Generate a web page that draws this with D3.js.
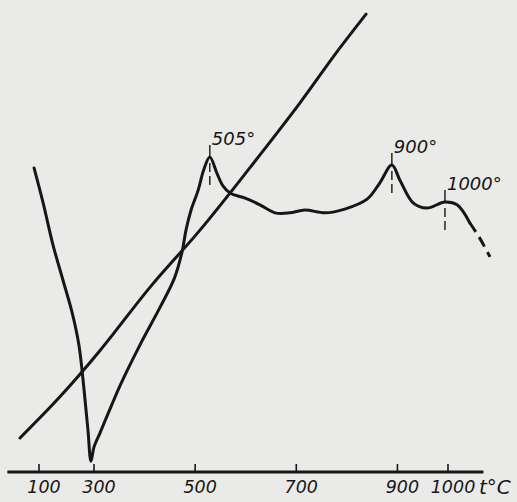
<!DOCTYPE html>
<html>
<head>
<meta charset="utf-8">
<script src="https://cdn.jsdelivr.net/npm/d3@7"></script>
<style>
  body { margin: 0; background: #eaeae8; }
  svg { display: block; }
  text { font-family: "DejaVu Sans", sans-serif; font-style: italic; fill: #161616; }
</style>
</head>
<body>
<script>
// Readings: temperature in °C, curve height in relative units (0..100)
var tickTemps = [100, 300, 500, 700, 900, 1000];
var axisTemps = [-15, 1070];

var curveTemps  = [82, 115, 151, 187, 220, 245, 264, 278, 289, 300, 312, 352, 391, 430, 459, 474, 482, 492, 506, 517, 529, 543, 555, 569, 599, 628, 658, 687, 717, 757, 796, 840, 865, 889, 905, 931, 958, 994, 1018, 1043];
var curveValues = [64.5, 57.1, 48.2, 40.8, 34.0, 27.1, 17.5, 9.1, 2.5, 5.5, 8.5, 18.6, 27.1, 34.9, 41.2, 46.7, 51.4, 55.6, 59.8, 64.1, 66.8, 63.4, 60.7, 59.2, 58.1, 56.7, 55.0, 55.0, 55.6, 55.0, 55.8, 57.9, 61.3, 65.1, 61.9, 57.1, 56.0, 57.3, 56.7, 52.9];

// dashed continuation of the curve
var tailTemps  = [1043, 1063, 1083];
var tailValues = [52.9, 49.6, 45.7];

var lineTemps  = [31, 176, 312, 411, 510, 608, 707, 776, 838];
var lineValues = [7.4, 16.1, 25.9, 39.3, 51.4, 64.5, 78.2, 88.4, 97.0];

var peakTemps  = [529, 889, 994];
var peakValues = [66.8, 65.1, 57.3];
var peakLabels = ['505°', '900°', '1000°'];

var width = 517, height = 502;
var ink = '#161616';

var svg = d3.select('body').append('svg')
  .attr('width', width)
  .attr('height', height);

// the printed temperature scale is not uniform below 300°
var x = d3.scaleLinear().domain([100, 300, 1000]).range([39, 94, 448]);
var y = d3.scaleLinear().domain([0, 100]).range([473, 0]);

var line = d3.line()
  .x(d => x(d[0]))
  .y(d => y(d[1]))
  .curve(d3.curveCatmullRom.alpha(0.5));

// Axis
var axisY = 472;
svg.append('line')
  .attr('x1', x(axisTemps[0])).attr('x2', x(axisTemps[1]))
  .attr('y1', axisY).attr('y2', axisY)
  .attr('stroke', ink).attr('stroke-width', 3);

var ticks = svg.append('g').selectAll('g')
  .data(tickTemps)
  .join('g')
    .attr('transform', d => 'translate(' + x(d) + ',' + axisY + ')');

ticks.append('line')
  .attr('y1', 0).attr('y2', -8)
  .attr('stroke', ink).attr('stroke-width', 1.6);

ticks.append('text')
  .attr('x', 5).attr('y', 21)
  .attr('text-anchor', 'middle')
  .style('font-size', '17.5px')
  .text(d => d);

svg.append('text')
  .attr('x', 479).attr('y', 494)
  .style('font-size', '20px')
  .text('t°C');

// Curves
svg.append('path')
  .datum(d3.zip(curveTemps, curveValues))
  .attr('d', line)
  .attr('fill', 'none').attr('stroke', ink)
  .attr('stroke-width', 3).attr('stroke-linejoin', 'round').attr('stroke-linecap', 'round');

svg.append('path')
  .datum(d3.zip(tailTemps, tailValues))
  .attr('d', line)
  .attr('fill', 'none').attr('stroke', ink)
  .attr('stroke-width', 3).attr('stroke-dasharray', '11,6');

svg.append('path')
  .datum(d3.zip(lineTemps, lineValues))
  .attr('d', line)
  .attr('fill', 'none').attr('stroke', ink)
  .attr('stroke-width', 3).attr('stroke-linejoin', 'round').attr('stroke-linecap', 'round');

// Peak markers
var peaks = svg.append('g').selectAll('g')
  .data(d3.zip(peakTemps, peakValues, peakLabels))
  .join('g')
    .attr('transform', d => 'translate(' + x(d[0]) + ',' + y(d[1]) + ')');

peaks.append('line')
  .attr('y1', -12).attr('y2', 0)
  .attr('stroke', ink).attr('stroke-width', 1.4);

peaks.append('line')
  .attr('y1', 6).attr('y2', 32)
  .attr('stroke', ink).attr('stroke-width', 1.4)
  .attr('stroke-dasharray', '9,4');

peaks.append('text')
  .attr('x', 2).attr('y', -12)
  .style('font-size', '18px')
  .text(d => d[2]);
</script>
</body>
</html>
